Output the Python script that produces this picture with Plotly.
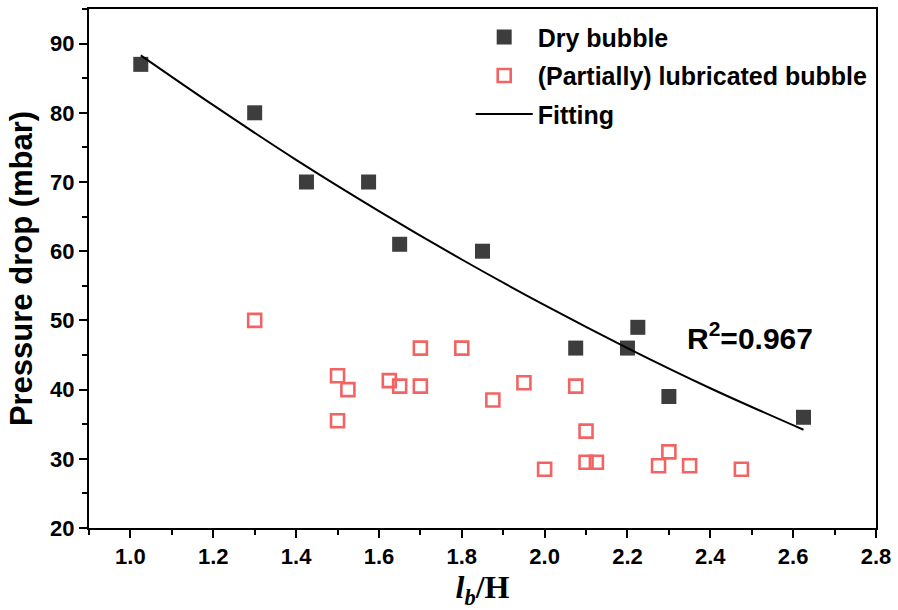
import plotly.graph_objects as go

# Dry bubble data
dry_x = [1.025, 1.3, 1.425, 1.575, 1.65, 1.85, 2.075, 2.2, 2.225, 2.3, 2.625]
dry_y = [87, 80, 70, 70, 61, 60, 46, 46, 49, 39, 36]

# (Partially) lubricated bubble data
lub_x = [1.3, 1.5, 1.525, 1.5, 1.625, 1.65, 1.7, 1.7, 1.8, 1.875, 1.95, 2.075,
         2.1, 2.0, 2.1, 2.125, 2.275, 2.3, 2.35, 2.475]
lub_y = [50, 42, 40, 35.5, 41.3, 40.5, 46, 40.5, 46, 38.5, 41, 40.5,
         34, 28.5, 29.5, 29.5, 29, 31, 29, 28.5]

# Fitting curve
fit_x = [1.025, 1.2, 1.4, 1.6, 1.8, 2.0, 2.2, 2.4, 2.625]
fit_y = [88.3, 81.1, 73.2, 65.8, 58.8, 52.2, 46.0, 40.2, 34.2]

x_ticks = [1.0, 1.2, 1.4, 1.6, 1.8, 2.0, 2.2, 2.4, 2.6, 2.8]
y_ticks = [20, 30, 40, 50, 60, 70, 80, 90]

FONT = "Liberation Sans, Arial, sans-serif"

fig = go.Figure()
fig.add_trace(go.Scatter(
    x=dry_x, y=dry_y, mode="markers", name="Dry bubble", legendgroup="a",
    marker=dict(symbol="square", size=15, color="#3d3d3d", line=dict(width=0)),
))
fig.add_trace(go.Scatter(
    x=lub_x, y=lub_y, mode="markers", name="(Partially) lubricated bubble", legendgroup="b",
    marker=dict(symbol="square-open", size=13, color="#f26464", line=dict(width=2.6, color="#f26464")),
))
fig.add_trace(go.Scatter(
    x=fit_x, y=fit_y, mode="lines", name="Fitting", legendgroup="c",
    line=dict(color="black", width=2, shape="spline"),
))

fig.add_annotation(
    x=2.338, y=47.7, xref="x", yref="y", xanchor="left", yanchor="middle",
    text="R<sup>2</sup>=0.967", showarrow=False,
    font=dict(family=FONT, size=30, color="black", weight="bold"),
)

fig.update_layout(
    width=898, height=610,
    margin=dict(l=89, r=17, t=7, b=82),
    paper_bgcolor="white", plot_bgcolor="white",
    showlegend=True,
    legend=dict(
        x=0.485, y=0.99, xanchor="left", yanchor="top",
        bgcolor="rgba(0,0,0,0)", borderwidth=0,
        font=dict(family=FONT, size=25, color="black", weight="bold"),
        itemwidth=57, tracegroupgap=3, traceorder="grouped",
    ),
    xaxis=dict(
        range=[0.9, 2.8], tickvals=x_ticks, ticktext=[f"{v:.1f}" for v in x_ticks],
        showgrid=False, zeroline=False,
        showline=True, linecolor="black", linewidth=2, mirror=True,
        ticks="outside", ticklen=8, tickwidth=2, tickcolor="black",
        minor=dict(dtick=0.1, tick0=0.9, ticks="outside", ticklen=5, tickwidth=2, tickcolor="black"),
        tickfont=dict(family=FONT, size=22, color="black", weight="bold"),
        title=dict(
            text="<i>l</i><sub><i>b</i></sub>/H",
            font=dict(family="Liberation Serif, Times New Roman, serif", size=32, color="black", weight="bold"),
            standoff=6,
        ),
    ),
    yaxis=dict(
        range=[20, 95], tickvals=y_ticks,
        showgrid=False, zeroline=False,
        showline=True, linecolor="black", linewidth=2, mirror=True,
        ticks="outside", ticklen=8, tickwidth=2, tickcolor="black",
        minor=dict(dtick=5, tick0=20, ticks="outside", ticklen=5, tickwidth=2, tickcolor="black"),
        tickfont=dict(family=FONT, size=22, color="black", weight="bold"),
        title=dict(
            text="Pressure drop (mbar)",
            font=dict(family=FONT, size=31, color="black", weight="bold"),
            standoff=8,
        ),
    ),
)

fig.write_html("out.html")
